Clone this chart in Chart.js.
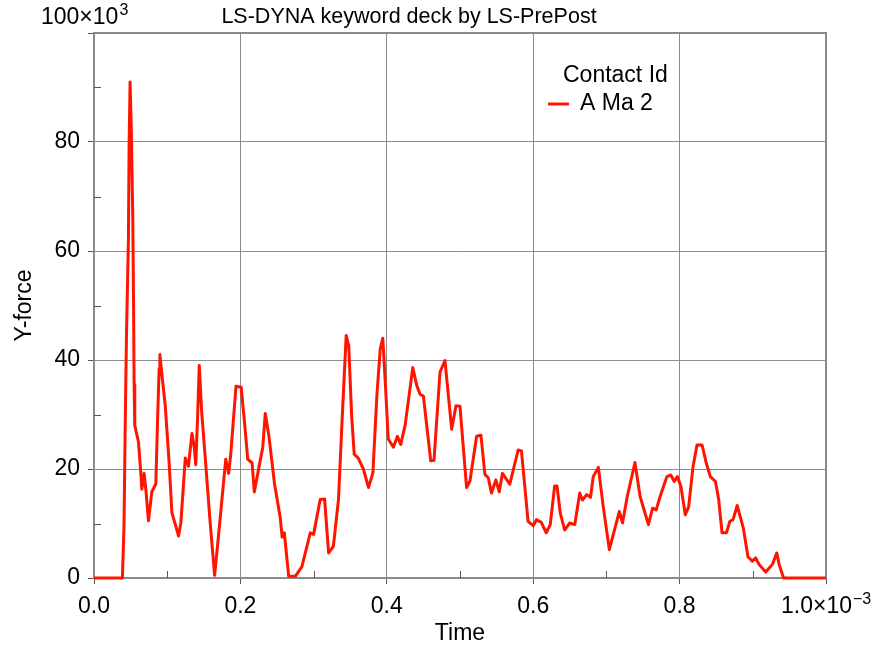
<!DOCTYPE html>
<html>
<head>
<meta charset="utf-8">
<title>Y-force vs Time</title>
<script src="https://cdn.jsdelivr.net/npm/chart.js@4.4.1/dist/chart.umd.min.js"></script>
<style>
  html, body { margin: 0; padding: 0; background: #fff; }
  #wrap { width: 880px; height: 648px; }
</style>
</head>
<body>
<div id="wrap"><canvas id="forceChart" width="880" height="648"></canvas></div>
<script>
"use strict";

// time in units of 1e-3 s
const timeValues = [
  0, 0.0388, 0.041, 0.0425, 0.0443, 0.047, 0.048, 0.0493, 0.051, 0.053,
  0.054, 0.0548, 0.0557, 0.0607, 0.064, 0.0653, 0.0685, 0.0708, 0.0744, 0.079,
  0.0845, 0.0868, 0.089, 0.090, 0.0927, 0.0973, 0.1027, 0.1064, 0.1128, 0.1155,
  0.1187, 0.1247, 0.129, 0.1338, 0.137, 0.139, 0.1416, 0.1438, 0.147, 0.152,
  0.1585, 0.1648, 0.171, 0.180, 0.184, 0.187, 0.194, 0.201, 0.2055, 0.210,
  0.216, 0.219, 0.226, 0.2306, 0.234, 0.239, 0.2466, 0.2545, 0.257, 0.26,
  0.266, 0.275, 0.284, 0.2955, 0.30, 0.309, 0.315, 0.3205, 0.327, 0.334,
  0.3386, 0.3445, 0.348, 0.352, 0.3555, 0.361, 0.368, 0.375, 0.381, 0.3864,
  0.391, 0.3945, 0.3977, 0.402, 0.409, 0.4145, 0.419, 0.425, 0.4355, 0.441,
  0.4455, 0.45, 0.46, 0.4645, 0.4727, 0.4795, 0.4886, 0.4945, 0.5, 0.5036,
  0.509, 0.5136, 0.5227, 0.5286, 0.534, 0.5386, 0.543, 0.549, 0.5536, 0.558,
  0.568, 0.5795, 0.584, 0.593, 0.6, 0.6045, 0.611, 0.6178, 0.6233, 0.6293,
  0.6325, 0.637, 0.643, 0.65, 0.6568, 0.6636, 0.6673, 0.673, 0.6783, 0.682,
  0.689, 0.6957, 0.704, 0.710, 0.7176, 0.722, 0.7286, 0.739, 0.746, 0.7574,
  0.763, 0.768, 0.7735, 0.7826, 0.788, 0.7927, 0.797, 0.8018, 0.8078, 0.8124,
  0.8183, 0.8238, 0.8307, 0.8366, 0.842, 0.849, 0.8535, 0.858, 0.864, 0.8686,
  0.873, 0.8787, 0.887, 0.8934, 0.8993, 0.9039, 0.9085, 0.9176, 0.9268, 0.9327,
  0.936, 0.942, 1.0
];

// Y-force in units of 1e3
const yForceValues = [
  0, 0, 9.6, 26.5, 44, 62, 80, 91, 82, 66,
  51, 35.5, 28, 25, 19.2, 16.3, 19.2, 16.3, 10.5, 15.8,
  17.3, 28.8, 38.4, 41, 37.4, 31.7, 21, 12, 9, 7.7,
  10.2, 22, 20.5, 26.5, 24, 20.8, 29.8, 39, 30.7, 22,
  10.5, 0.5, 9, 21.8, 19.2, 23, 35.2, 35, 28.8, 21.8,
  21.1, 15.8, 20.8, 24, 30.2, 26, 17.3, 11, 7.5, 8.3,
  0.3, 0.3, 2.1, 8.3, 8, 14.4, 14.5, 4.6, 5.8, 14.4,
  28, 44.5, 42.6, 29.7, 22.7, 22, 20, 16.6, 19.3, 33.4,
  42, 44, 36.5, 25.5, 24, 26, 24.5, 28, 38.6, 35.3,
  33.7, 33.4, 21.5, 21.6, 37.8, 39.9, 27.3, 31.6, 31.5, 25.5,
  16.6, 17.8, 26, 26.2, 19, 18.4, 15.6, 18, 15.8, 19.2,
  17.2, 23.5, 23.3, 10.4, 9.6, 10.7, 10.2, 8.3, 9.8, 16.9,
  16.9, 11.9, 8.8, 10.1, 9.8, 15.6, 14.3, 15.3, 14.8, 18.6,
  20.3, 13.1, 5.2, 8.3, 12.2, 10.1, 15, 21.2, 15, 9.8,
  12.8, 12.5, 15, 18.6, 18.9, 17.7, 18.6, 16.8, 11.6, 13.1,
  20.4, 24.4, 24.4, 21, 18.6, 17.7, 14.3, 8.3, 8.3, 10.4,
  10.7, 13.3, 9.2, 3.9, 3.1, 3.7, 2.5, 1.1, 2.5, 4.6,
  2.5, 0, 0
];

const xTickLabels = ["0.0", "0.2", "0.4", "0.6", "0.8"];
const yTickLabels = ["0", "20", "40", "60", "80"];
const xMinorTicks = [0.1, 0.3, 0.5, 0.7, 0.9];
const yMinorTicks = [10, 30, 50, 70, 90];

const chartTitle  = "LS-DYNA keyword deck by LS-PrePost";
const legendTitle = "Contact Id";
const seriesName  = "A Ma 2";
const lineColor   = "rgb(255, 20, 0)";
const FONT = '"Liberation Sans", Arial, Helvetica, sans-serif';

// base text followed by a raised, smaller exponent
function drawExponentLabel(ctx, base, sup, x, y) {
  ctx.font = "23px " + FONT;
  ctx.textAlign = "left";
  ctx.textBaseline = "middle";
  ctx.fillText(base, x, y);
  const w = ctx.measureText(base).width;
  ctx.font = "16px " + FONT;
  ctx.fillText(sup, x + w + 1, y - 7);
}

const decorPlugin = {
  id: "decor",
  beforeDatasetsDraw(chart) {
    const { ctx, chartArea: a, scales: { x, y } } = chart;
    ctx.save();
    ctx.strokeStyle = "#8a8a8a";
    ctx.lineWidth = 2;
    ctx.strokeRect(a.left, a.top, a.right - a.left, a.bottom - a.top);

    ctx.strokeStyle = "#555";
    ctx.lineWidth = 1;
    ctx.beginPath();
    xMinorTicks.forEach(v => {
      const px = Math.round(x.getPixelForValue(v)) + 0.5;
      ctx.moveTo(px, a.bottom);
      ctx.lineTo(px, a.bottom - 7);
    });
    yMinorTicks.forEach(v => {
      const py = Math.round(y.getPixelForValue(v)) + 0.5;
      ctx.moveTo(a.left, py);
      ctx.lineTo(a.left + 7, py);
    });
    ctx.stroke();
    ctx.restore();
  },
  afterDraw(chart) {
    const { ctx, chartArea: a } = chart;
    ctx.save();
    ctx.fillStyle = "#000";

    // title
    ctx.font = "21.5px " + FONT;
    ctx.textAlign = "center";
    ctx.textBaseline = "middle";
    ctx.fillText(chartTitle, a.left + 315, 17);

    // scale exponents
    drawExponentLabel(ctx, "100\u00d710", "3", 41, 18);
    drawExponentLabel(ctx, "1.0\u00d710", "\u22123", a.right - 45, a.bottom + 29);

    // legend
    ctx.font = "23px " + FONT;
    ctx.textAlign = "left";
    ctx.fillText(legendTitle, 563, 76);
    ctx.fillText(seriesName, 580, 104);
    ctx.strokeStyle = lineColor;
    ctx.lineWidth = 3;
    ctx.beginPath();
    ctx.moveTo(548, 104);
    ctx.lineTo(569, 104);
    ctx.stroke();
    ctx.restore();
  }
};

const points = timeValues.map((t, i) => ({ x: t, y: yForceValues[i] }));

new Chart(document.getElementById("forceChart"), {
  type: "line",
  data: {
    datasets: [{
      label: seriesName,
      data: points,
      borderColor: lineColor,
      borderWidth: 3,
      pointRadius: 0,
      tension: 0,
      fill: false,
      clip: false,
      borderJoinStyle: "round"
    }]
  },
  options: {
    responsive: false,
    animation: false,
    layout: { padding: { left: 0, right: 54, top: 33, bottom: 0 } },
    plugins: {
      legend: { display: false },
      title: { display: false },
      tooltip: { enabled: false }
    },
    scales: {
      x: {
        type: "linear",
        min: 0,
        max: 1,
        afterFit(scale) { scale.height = 70; },
        ticks: {
          stepSize: 0.2,
          autoSkip: false,
          maxRotation: 0,
          padding: 9,
          color: "#000",
          font: { family: FONT, size: 23 },
          callback: (v, i) => xTickLabels[i] ?? ""
        },
        grid: { color: "#8c8c8c", lineWidth: 1, tickLength: 6, tickColor: "#555" },
        border: { color: "#8a8a8a", width: 2 },
        title: {
          display: true,
          text: "Time",
          color: "#000",
          font: { family: FONT, size: 23 },
          padding: { top: 0, bottom: 1 }
        }
      },
      y: {
        min: 0,
        max: 100,
        afterFit(scale) { scale.width = 94; },
        ticks: {
          stepSize: 20,
          autoSkip: false,
          padding: 8,
          color: "#000",
          font: { family: FONT, size: 23 },
          callback: (v, i) => yTickLabels[i] ?? ""
        },
        grid: { color: "#8c8c8c", lineWidth: 1, tickLength: 6, tickColor: "#555" },
        border: { color: "#8a8a8a", width: 2 },
        title: {
          display: true,
          text: "Y-force",
          color: "#000",
          font: { family: FONT, size: 23 },
          padding: { top: 11, bottom: 0 }
        }
      }
    }
  },
  plugins: [decorPlugin]
});
</script>
</body>
</html>
